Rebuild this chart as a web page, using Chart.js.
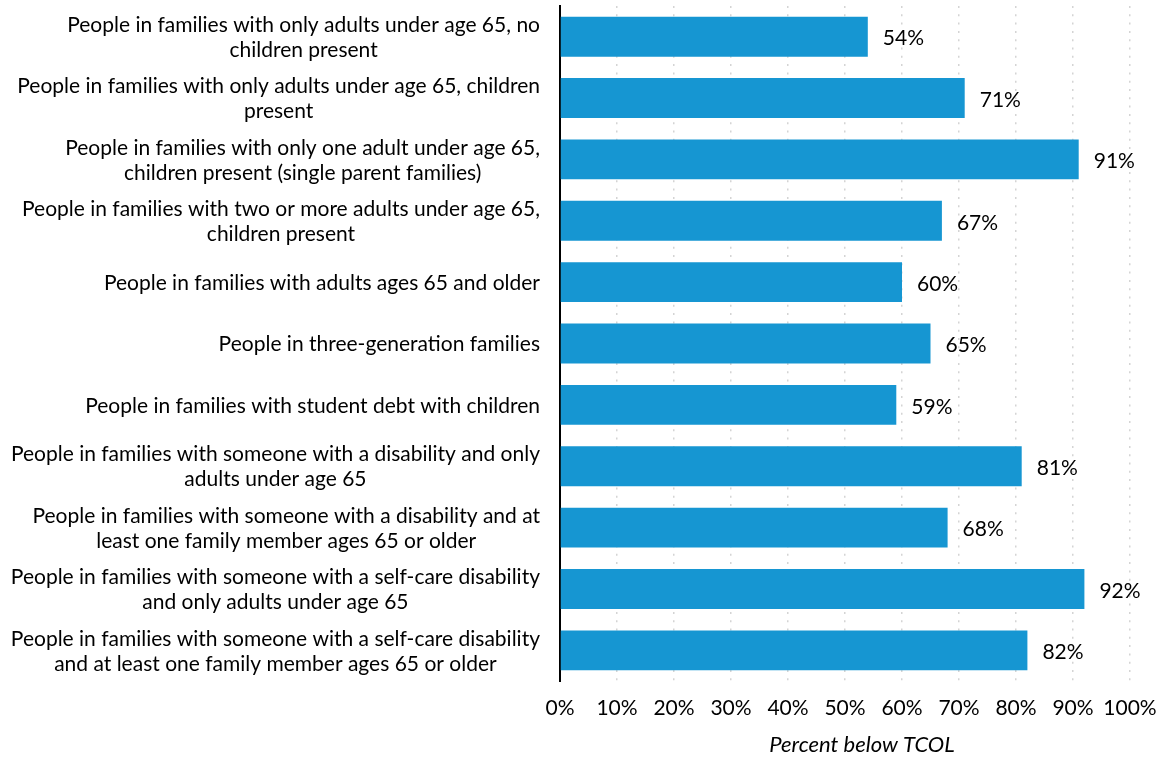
<!DOCTYPE html>
<html>
<head>
<meta charset="utf-8">
<script src="https://cdn.jsdelivr.net/npm/chart.js@4.4.0/dist/chart.umd.min.js"></script>
<style>
  html, body { margin: 0; padding: 0; background: #fff; }
</style>
</head>
<body>
<canvas id="graficaTcol" width="1164" height="757"></canvas>
<script>
// Categorias (cada una con sus lineas de texto)
const categorias = [
    ['People in families with only adults under age 65, no', 'children present'],
    ['People in families with only adults under age 65, children', 'present'],
    ['People in families with only one adult under age 65,', 'children present (single parent families)'],
    ['People in families with two or more adults under age 65,', 'children present'],
    ['People in families with adults ages 65 and older'],
    ['People in three-generation families'],
    ['People in families with student debt with children'],
    ['People in families with someone with a disability and only', 'adults under age 65'],
    ['People in families with someone with a disability and at', 'least one family member ages 65 or older'],
    ['People in families with someone with a self-care disability', 'and only adults under age 65'],
    ['People in families with someone with a self-care disability', 'and at least one family member ages 65 or older']
];

// Porcentaje por debajo del TCOL
const valores = [54, 71, 91, 67, 60, 65, 59, 81, 68, 92, 82];

const ejeMin = 0;
const ejeMax = 100;
const ejePaso = 10;
const tituloEje = 'Percent below TCOL';

const azul = '#1696d2';
const fuente = 'Lato, "Open Sans", sans-serif';

Chart.defaults.font.family = fuente;
Chart.defaults.color = '#000';

// Etiquetas de categoria: bloque alineado a la derecha, lineas centradas
const etiquetasCategorias = {
    id: 'etiquetasCategorias',
    afterDraw(chart) {
        const ctx = chart.ctx;
        const escalaY = chart.scales.y;
        const bordeDerecho = escalaY.right - 20;
        const alto = 25;
        ctx.save();
        ctx.font = '21px ' + fuente;
        ctx.fillStyle = '#000';
        ctx.textAlign = 'center';
        ctx.textBaseline = 'middle';
        categorias.forEach((lineas, i) => {
            const y = escalaY.getPixelForValue(i) + 1;
            const ancho = Math.max(...lineas.map(l => ctx.measureText(l).width));
            const cx = bordeDerecho - ancho / 2;
            const y0 = y - (lineas.length - 1) * alto / 2;
            lineas.forEach((l, j) => ctx.fillText(l, cx, y0 + j * alto));
        });

        // Titulo del eje X, centrado entre el eje y el borde derecho
        const escalaX = chart.scales.x;
        ctx.font = 'italic 22px ' + fuente;
        ctx.fillText(tituloEje, (escalaX.left + chart.width) / 2, escalaX.bottom - 12);
        ctx.restore();
    }
};

// Valores al final de cada barra
const etiquetasValores = {
    id: 'etiquetasValores',
    afterDatasetsDraw(chart) {
        const ctx = chart.ctx;
        const meta = chart.getDatasetMeta(0);
        ctx.save();
        ctx.font = '21px ' + fuente;
        ctx.fillStyle = '#000';
        ctx.textAlign = 'left';
        ctx.textBaseline = 'middle';
        meta.data.forEach((barra, i) => {
            ctx.fillText(valores[i] + '%', barra.x + 15, barra.y + 2);
        });
        ctx.restore();
    }
};

const ctx = document.getElementById('graficaTcol').getContext('2d');
const grafica = new Chart(ctx, {
    type: 'bar',
    data: {
        labels: categorias.map(l => l.join(' ')),
        datasets: [{
            data: valores,
            backgroundColor: azul,
            borderWidth: 0,
            barPercentage: 0.65,
            categoryPercentage: 1
        }]
    },
    options: {
        indexAxis: 'y',
        responsive: false,
        animation: false,
        layout: {
            padding: { top: 6, right: 34, bottom: 0, left: 0 }
        },
        plugins: {
            legend: { display: false },
            tooltip: { enabled: false }
        },
        scales: {
            x: {
                min: ejeMin,
                max: ejeMax,
                ticks: {
                    stepSize: ejePaso,
                    padding: 15,
                    minRotation: 0,
                    maxRotation: 0,
                    autoSkip: false,
                    font: { size: 21 },
                    color: '#000',
                    callback: v => v + '%'
                },
                grid: {
                    color: '#d4d4d4',
                    lineWidth: 1.5,
                    drawTicks: false
                },
                border: {
                    display: false,
                    dash: [2, 6.3]
                },
                title: { display: false },
                afterFit(escala) {
                    escala.height = 76;
                    escala.paddingRight = 0;
                    escala.paddingLeft = 0;
                }
            },
            y: {
                ticks: { display: false },
                grid: { display: false },
                border: { display: true, color: '#000', width: 2 },
                afterFit(escala) { escala.width = 560; }
            }
        }
    },
    plugins: [etiquetasCategorias, etiquetasValores]
});
</script>
</body>
</html>
